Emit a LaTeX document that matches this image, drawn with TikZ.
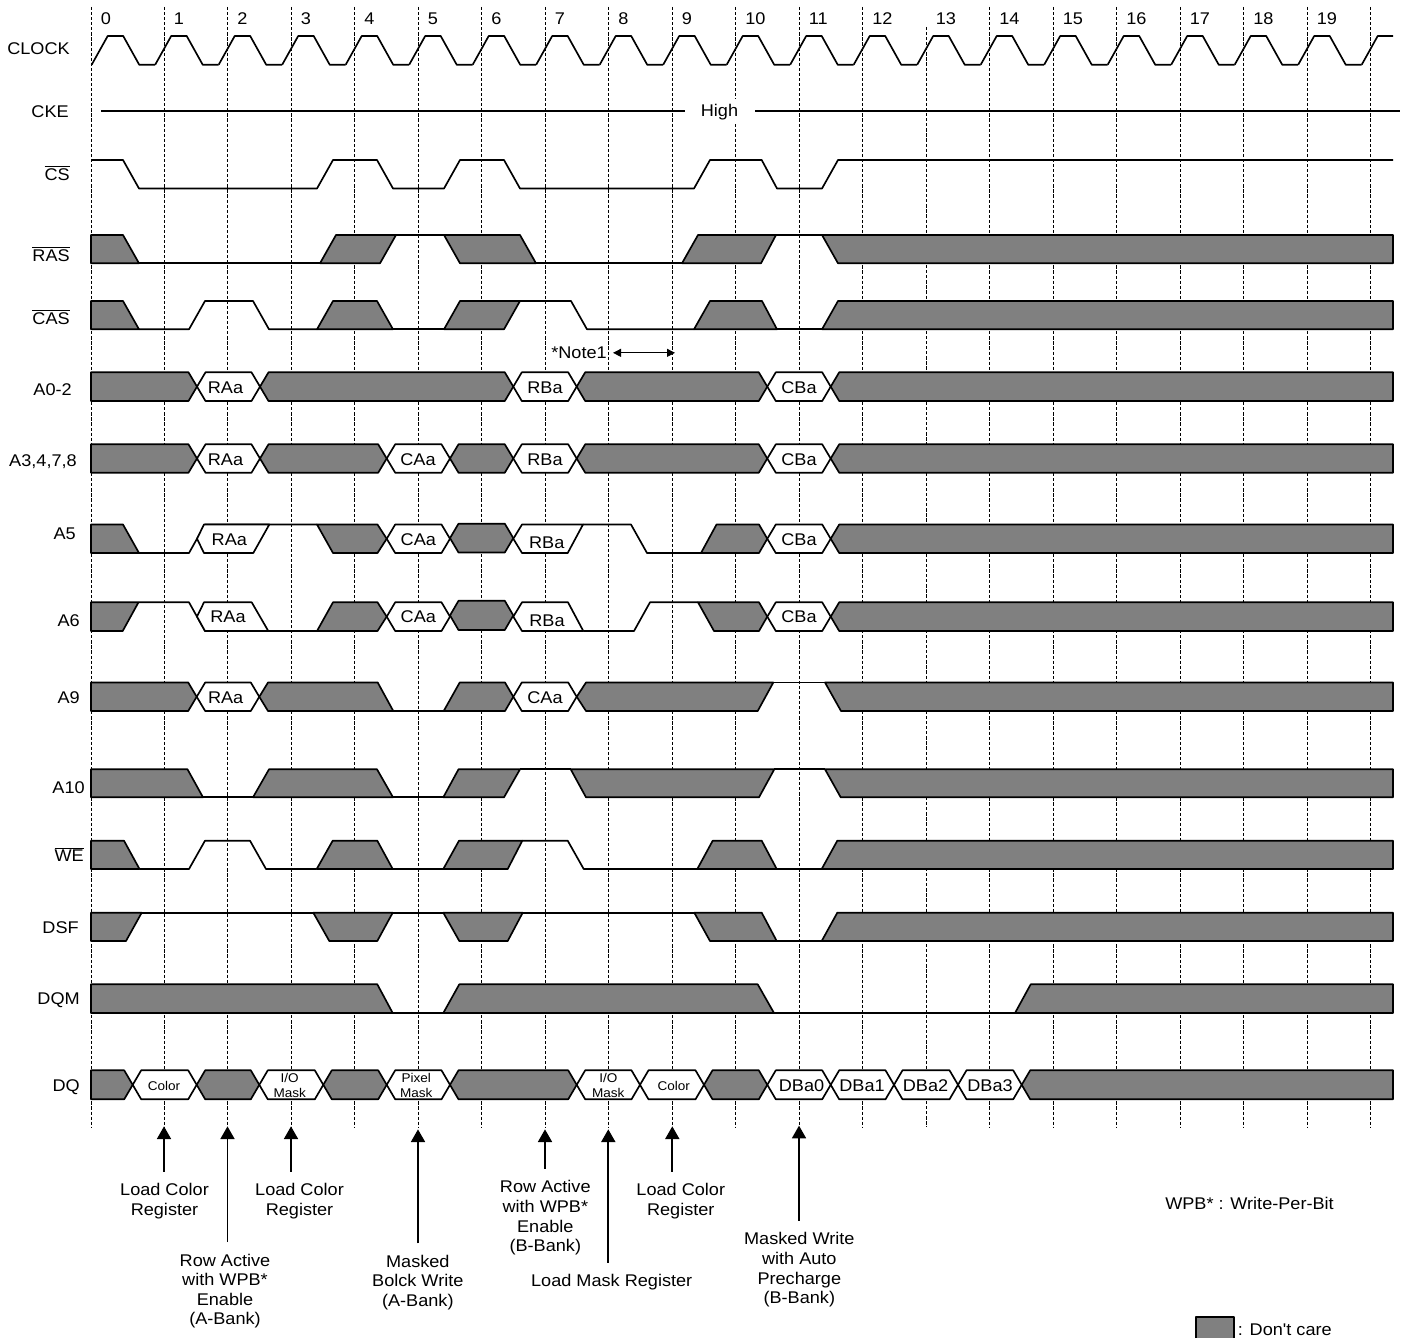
\documentclass[tikz,border=0pt]{standalone}
\usepackage{fontspec}
\setmainfont[FakeStretch=1.07,Ligatures=TeXOff]{Liberation Sans}
\definecolor{mygray}{RGB}{128, 128, 128}
\usetikzlibrary{arrows.meta, calc}
\tikzset{
	every node/.style = {font = \fontsize{12.7}{14.7}\selectfont, inner sep = 0pt, yshift = -1pt},
	sig/.style = {line width = 1.25pt, line join = round},
	care/.style = {sig, fill = mygray},
	free/.style = {sig, fill = white},
	gridline/.style = {line width = 0.6pt, dash pattern = on 2.4pt off 1.4pt},
	pin/.style = {anchor = base east},
	small/.style = {font = \fontsize{9.5}{11.25}\selectfont, align = center},
	caption/.style = {align = center, inner ysep = 8.5pt},
	pointer/.style = {line width = 1.25pt, -{Triangle[width = 10.5pt, length = 9.5pt]}}
}
\newcommand{\hexbox}[5][care]{\draw[#1] (#2,{(#4+#5)/2}) -- ({#2+8.5},#4) -- ({#3-8.5},#4) -- (#3,{(#4+#5)/2}) -- ({#3-8.5},#5) -- ({#2+8.5},#5) -- cycle;}
\newcommand{\rowstart}[3]{\draw[care] (91,#2) -- ({#1-8.5},#2) -- (#1,{(#2+#3)/2}) -- ({#1-8.5},#3) -- (91,#3) -- cycle;}
\newcommand{\rowend}[3]{\draw[care] (#1,{(#2+#3)/2}) -- ({#1+8.5},#2) -- (1393,#2) -- (1393,#3) -- ({#1+8.5},#3) -- cycle;}

\begin{document}
\begin{tikzpicture}[x = 0.75pt, y = -0.75pt]
	\useasboundingbox (0,0) rectangle (1405,1338);

	\draw[gridline] (91,7) -- (91,1127);
	\foreach \k in {0,...,19} {
		\pgfmathsetmacro{\xg}{164+63.5*\k}
		\pgfmathsetmacro{\yg}{\k==12 ? 27 : 7}
		\draw[gridline] (\xg,\yg) -- (\xg,1127);
	}
	\node[anchor = base west] (tick0) at (100.5,23.5) {0};
	\foreach \k [count = \n from 1] in {0,...,18} {
		\pgfmathsetmacro{\xg}{173.5+63.5*\k}
		\node[anchor = base west] (tick\n) at (\xg,23.5) {\n};
	}

	\node[pin] (clock) at (70,53) {CLOCK};
	\node[pin] (cke) at (69,116.5) {CKE};
	\node[pin] (cs) at (70,179) {$\overline{\mbox{CS}}$};
	\node[pin] (ras) at (70,260) {$\overline{\mbox{RAS}}$};
	\node[pin] (cas) at (70,323) {$\overline{\mbox{CAS}}$};
	\node[pin] (a02) at (72,394) {A0-2};
	\node[pin] (a3478) at (77,465) {A3,4,7,8};
	\node[pin] (a5) at (76,538.3) {A5};
	\node[pin] (a6) at (80,625) {A6};
	\node[pin] (a9) at (80,702.3) {A9};
	\node[pin] (a10) at (85,791.7) {A10};
	\node[pin] (we) at (84,860) {$\overline{\mbox{WE}}$};
	\node[pin] (dsf) at (79,931.7) {DSF};
	\node[pin] (dqm) at (80,1003.3) {DQM};
	\node[pin] (dq) at (80,1090) {DQ};

	\foreach \k in {0,...,19} {
		\pgfmathsetmacro{\xc}{91.7+63.5*\k}
		\draw[sig] (\xc,64.7) -- ++(16,-28.7) -- ++(15.5,0) -- ++(16,28.7) -- ++(16,0);
	}
	\draw[sig] (1361.7,64.7) -- ++(16,-28.7) -- (1393,36);

	\node[fill = white, minimum height = 18.75pt] (high) at (719.5,110.5) {High};
	\draw[sig] (101,111) -- (685,111);
	\draw[sig] (755,111) -- (1400,111);

	\draw[sig] (91,160) -- (123,160) -- (139,188.5) -- (317,188.5) -- (333,160) -- (377,160) -- (393,188.5) -- (444,188.5) -- (460,160) -- (504,160) -- (520,188.5) -- (694,188.5) -- (710,160) -- (761.7,160) -- (777,188.5) -- (822,188.5) -- (838,160) -- (1393,160);

	\def\T{235}\def\B{263.3}
	\draw[care] (91,\T) -- (123,\T) -- (139,\B) -- (91,\B) -- cycle;
	\draw[sig] (139,\B) -- (320,\B);
	\draw[care] (320,\B) -- (336,\T) -- (396,\T) -- (380,\B) -- cycle;
	\draw[sig] (396,\T) -- (444,\T);
	\draw[care] (444,\T) -- (520,\T) -- (536,\B) -- (460,\B) -- cycle;
	\draw[sig] (536,\B) -- (682,\B);
	\draw[care] (682,\B) -- (698,\T) -- (776,\T) -- (761,\B) -- cycle;
	\draw[sig] (776,\T) -- (822,\T);
	\draw[care] (822,\T) -- (1393,\T) -- (1393,\B) -- (838,\B) -- cycle;

	\def\T{301}\def\B{329.3}
	\draw[care] (91,\T) -- (123,\T) -- (139,\B) -- (91,\B) -- cycle;
	\draw[sig] (139,\B) -- (189,\B) -- (205,\T) -- (253,\T) -- (269,\B) -- (317,\B);
	\draw[care] (317,\B) -- (333,\T) -- (377,\T) -- (393,\B) -- cycle;
	\draw[sig] (393,\B) -- (444,\B);
	\draw[care] (444,\B) -- (460,\T) -- (520,\T) -- (504,\B) -- cycle;
	\draw[sig] (520,\T) -- (571,\T) -- (587,\B) -- (694,\B);
	\draw[care] (694,\B) -- (710,\T) -- (762,\T) -- (777,\B) -- cycle;
	\draw[sig] (777,\B) -- (822,\B);
	\draw[care] (822,\B) -- (838,\T) -- (1393,\T) -- (1393,\B) -- cycle;

	\node[anchor = east, inner xsep = 4.5pt] (note1) at (613,351.5) {*Note1};
	\coordinate (note1end) at (675,351.5);
	\draw[line width = 0.7pt, {Triangle[width = 6pt, length = 6pt]}-{Triangle[width = 6pt, length = 6pt]}] (note1) -- (note1end);

	\def\T{372.3}\def\B{401}
	\rowstart{197}{\T}{\B}
	\hexbox[free]{197}{260}{\T}{\B}
	\hexbox{260}{513.3}{\T}{\B}
	\hexbox[free]{513.3}{576.7}{\T}{\B}
	\hexbox{576.7}{767.3}{\T}{\B}
	\hexbox[free]{767.3}{830.7}{\T}{\B}
	\rowend{830.7}{\T}{\B}
	\node (raa1) at (225.5,386.7) {RAa};
	\node (rba1) at (545,386) {RBa};
	\node (cba1) at (799,386) {CBa};

	\def\T{444.3}\def\B{472.7}
	\rowstart{197}{\T}{\B}
	\hexbox[free]{197}{260}{\T}{\B}
	\hexbox{260}{386.7}{\T}{\B}
	\hexbox[free]{386.7}{450}{\T}{\B}
	\hexbox{450}{513.3}{\T}{\B}
	\hexbox[free]{513.3}{576.7}{\T}{\B}
	\hexbox{576.7}{767.3}{\T}{\B}
	\hexbox[free]{767.3}{830.7}{\T}{\B}
	\rowend{830.7}{\T}{\B}
	\node (raa2) at (225.5,458) {RAa};
	\node (caa2) at (418,458) {CAa};
	\node (rba2) at (545,458) {RBa};
	\node (cba2) at (799,458) {CBa};

	\def\T{524.5}\def\B{553}\def\M{538.75}
	\draw[care] (91,\T) -- (123,\T) -- (139,\B) -- (91,\B) -- cycle;
	\draw[sig] (139,\B) -- (189,\B) -- (205,\T) -- (317,\T);
	\draw[free] (197,\M) -- (204,\T) -- (269.3,\T) -- (253.3,\B) -- (204,\B) -- cycle;
	\draw[care] (317,\T) -- (377.5,\T) -- (386.7,\M) -- (377.5,\B) -- (333,\B) -- cycle;
	\hexbox[free]{386.7}{450}{\T}{\B}
	\hexbox{450}{513.3}{523.7}{552.5}
	\draw[free] (513.3,\M) -- (522,\T) -- (583,\T) -- (567.7,\B) -- (522,\B) -- cycle;
	\draw[sig] (583,\T) -- (631,\T) -- (647,\B) -- (701,\B);
	\draw[care] (701,\B) -- (716.5,\T) -- (759,\T) -- (767.3,\M) -- (759,\B) -- cycle;
	\hexbox[free]{767.3}{830.7}{\T}{\B}
	\rowend{830.7}{\T}{\B}
	\node (raa3) at (229.3,538.7) {RAa};
	\node (caa3) at (418.3,538.7) {CAa};
	\node (rba3) at (546.7,541.3) {RBa};
	\node (cba3) at (799,538.7) {CBa};

	\def\T{602.3}\def\B{631}\def\M{616.6}
	\draw[care] (91,\T) -- (138.5,\T) -- (122.7,\B) -- (91,\B) -- cycle;
	\draw[sig] (138.5,\T) -- (189,\T) -- (205,\B) -- (317,\B);
	\draw[free] (197,\M) -- (204,\T) -- (251.7,\T) -- (268.3,\B) -- (205,\B) -- cycle;
	\draw[care] (317,\B) -- (333,\T) -- (377.5,\T) -- (386.7,\M) -- (377.5,\B) -- cycle;
	\hexbox[free]{386.7}{450}{\T}{\B}
	\hexbox{450}{513.3}{600.8}{630}
	\draw[free] (513.3,\M) -- (522,\T) -- (568,\T) -- (583.3,\B) -- (522,\B) -- cycle;
	\draw[sig] (583.3,\B) -- (634,\B) -- (650,\T) -- (698,\T);
	\draw[care] (698,\T) -- (759,\T) -- (767.3,\M) -- (759,\B) -- (714,\B) -- cycle;
	\hexbox[free]{767.3}{830.7}{\T}{\B}
	\rowend{830.7}{\T}{\B}
	\node (raa4) at (228,615.3) {RAa};
	\node (caa4) at (418.3,615.7) {CAa};
	\node (rba4) at (547,619.3) {RBa};
	\node (cba4) at (799,615.3) {CBa};

	\def\T{682.5}\def\B{711}\def\M{696.75}
	\rowstart{196.7}{\T}{\B}
	\hexbox[free]{196.7}{259.3}{\T}{\B}
	\draw[care] (259.3,\M) -- (268,\T) -- (377.7,\T) -- (393.3,\B) -- (268,\B) -- cycle;
	\draw[sig] (393.3,\B) -- (443.7,\B);
	\draw[care] (443.7,\B) -- (459.7,\T) -- (505,\T) -- (513.3,\M) -- (505,\B) -- cycle;
	\hexbox[free]{513.3}{576.7}{\T}{\B}
	\draw[care] (576.7,\M) -- (586,\T) -- (773.3,\T) -- (757.7,\B) -- (586,\B) -- cycle;
	\draw[sig] (773.3,\T) -- (825,\T);
	\draw[care] (825,\T) -- (1393,\T) -- (1393,\B) -- (841,\B) -- cycle;
	\node (raa5) at (225.7,696.7) {RAa};
	\node (caa5) at (545,696.7) {CAa};

	\def\T{769.3}\def\B{797.3}
	\draw[care] (91,\T) -- (187.5,\T) -- (203,\B) -- (91,\B) -- cycle;
	\draw[sig] (203,\B) -- (253,\B);
	\draw[care] (253,\B) -- (269,\T) -- (377,\T) -- (393,\B) -- cycle;
	\draw[sig] (393,\B) -- (443.3,\B);
	\draw[care] (443.3,\B) -- (458.5,\T) -- (520,\T) -- (504,\B) -- cycle;
	\draw[sig] (520,\T) -- (570.7,\T);
	\draw[care] (570.7,\T) -- (774.3,\T) -- (759,\B) -- (586,\B) -- cycle;
	\draw[sig] (774.3,\T) -- (825,\T);
	\draw[care] (825,\T) -- (1393,\T) -- (1393,\B) -- (840.7,\B) -- cycle;

	\def\T{840.7}\def\B{869}
	\draw[care] (91,\T) -- (124,\T) -- (139.5,\B) -- (91,\B) -- cycle;
	\draw[sig] (139.5,\B) -- (189,\B) -- (205,\T) -- (250,\T) -- (266,\B) -- (316.7,\B);
	\draw[care] (316.7,\B) -- (332.7,\T) -- (377.3,\T) -- (392.7,\B) -- cycle;
	\draw[sig] (392.7,\B) -- (443.3,\B);
	\draw[care] (443.3,\B) -- (459,\T) -- (522.3,\T) -- (507.7,\B) -- cycle;
	\draw[sig] (522.3,\T) -- (567.7,\T) -- (583.7,\B) -- (697.3,\B);
	\draw[care] (697.3,\B) -- (712.7,\T) -- (761.7,\T) -- (776.7,\B) -- cycle;
	\draw[sig] (776.7,\B) -- (821.7,\B);
	\draw[care] (821.7,\B) -- (837.3,\T) -- (1393,\T) -- (1393,\B) -- cycle;

	\def\T{912.7}\def\B{941}
	\draw[care] (91,\T) -- (141.7,\T) -- (126,\B) -- (91,\B) -- cycle;
	\draw[sig] (141.7,\T) -- (313.3,\T);
	\draw[care] (313.3,\T) -- (392.7,\T) -- (377.3,\B) -- (329.3,\B) -- cycle;
	\draw[sig] (392.7,\T) -- (443.3,\T);
	\draw[care] (443.3,\T) -- (522.7,\T) -- (507.7,\B) -- (459.3,\B) -- cycle;
	\draw[sig] (522.7,\T) -- (694.3,\T);
	\draw[care] (694.3,\T) -- (761.7,\T) -- (776.7,\B) -- (710,\B) -- cycle;
	\draw[sig] (776.7,\B) -- (821.7,\B);
	\draw[care] (821.7,\B) -- (837.3,\T) -- (1393,\T) -- (1393,\B) -- cycle;

	\def\T{984.3}\def\B{1013}
	\draw[care] (91,\T) -- (377.3,\T) -- (392.7,\B) -- (91,\B) -- cycle;
	\draw[sig] (392.7,\B) -- (443.3,\B);
	\draw[care] (443.3,\B) -- (459.3,\T) -- (757.7,\T) -- (774,\B) -- cycle;
	\draw[sig] (774,\B) -- (1015,\B);
	\draw[care] (1015,\B) -- (1030.7,\T) -- (1393,\T) -- (1393,\B) -- cycle;

	\def\T{1070.3}\def\B{1099.3}
	\rowstart{132.7}{\T}{\B}
	\hexbox[free]{132.7}{196.7}{\T}{\B}
	\hexbox{196.7}{259.3}{\T}{\B}
	\hexbox[free]{259.3}{323.3}{\T}{\B}
	\hexbox{323.3}{386.7}{\T}{\B}
	\hexbox[free]{386.7}{450}{\T}{\B}
	\hexbox{450}{576.7}{\T}{\B}
	\hexbox[free]{576.7}{640}{\T}{\B}
	\hexbox[free]{640}{704}{\T}{\B}
	\hexbox{704}{767.3}{\T}{\B}
	\hexbox[free]{767.3}{830.7}{\T}{\B}
	\hexbox[free]{830.7}{894}{\T}{\B}
	\hexbox[free]{894}{958}{\T}{\B}
	\hexbox[free]{958}{1021.7}{\T}{\B}
	\rowend{1021.7}{\T}{\B}
	\node[small] (color1) at (164,1084.7) {Color};
	\node[small] (iomask1) at (289.7,1084.5) {I/O\\Mask};
	\node[small] (pixmask) at (416.2,1084.5) {Pixel\\Mask};
	\node[small] (iomask2) at (608.3,1084.5) {I/O\\Mask};
	\node[small] (color2) at (673.7,1084.7) {Color};
	\node (dba0) at (801.5,1084.7) {DBa0};
	\node (dba1) at (862,1084.7) {DBa1};
	\node (dba2) at (925.5,1084.7) {DBa2};
	\node (dba3) at (990,1084.7) {DBa3};

	\node[caption] (loadcolor1) at (164.5,1199.5) {Load Color\\Register};
	\node[caption] (loadcolor2) at (299.5,1199.5) {Load Color\\Register};
	\node[caption] (loadcolor3) at (680.8,1199.5) {Load Color\\Register};
	\node[caption] (rowa) at (225,1289.7) {Row Active\\with WPB*\\Enable\\(A-Bank)};
	\node[caption] (maskeda) at (417.8,1281) {Masked\\Bolck Write\\(A-Bank)};
	\node[caption] (rowb) at (545.3,1216.5) {Row Active\\with WPB*\\Enable\\(B-Bank)};
	\node[caption] (loadmask) at (611.7,1281) {Load Mask Register};
	\node[caption] (maskedb) at (799.3,1268.5) {Masked Write\\with Auto\\Precharge\\(B-Bank)};

	\coordinate (pin1) at (164,1125);
	\coordinate (pin2) at (227.5,1125);
	\coordinate (pin3) at (291,1125);
	\coordinate (pin4) at (418,1128);
	\coordinate (pin5) at (545,1128);
	\coordinate (pin6) at (608.3,1128);
	\coordinate (pin7) at (672.3,1125);
	\coordinate (pin8) at (799,1124.3);
	\draw[pointer] (pin1 |- loadcolor1.north) -- (pin1);
	\draw[pointer] (pin2 |- rowa.north) -- (pin2);
	\draw[pointer] (pin3 |- loadcolor2.north) -- (pin3);
	\draw[pointer] (pin4 |- maskeda.north) -- (pin4);
	\draw[pointer] (pin5 |- rowb.north) -- (pin5);
	\draw[pointer] (pin6 |- loadmask.north) -- (pin6);
	\draw[pointer] (pin7 |- loadcolor3.north) -- (pin7);
	\draw[pointer] (pin8 |- maskedb.north) -- (pin8);

	\node (wpb) at (1249.5,1202.3) {WPB* : Write-Per-Bit};
	\draw[care] (1195.7,1338) -- (1195.7,1317.3) -- (1234.3,1317.3) -- (1234.3,1338);
	\node[anchor = west] (dontcare) at (1237.7,1328) {: Don't care};
\end{tikzpicture}
\end{document}
